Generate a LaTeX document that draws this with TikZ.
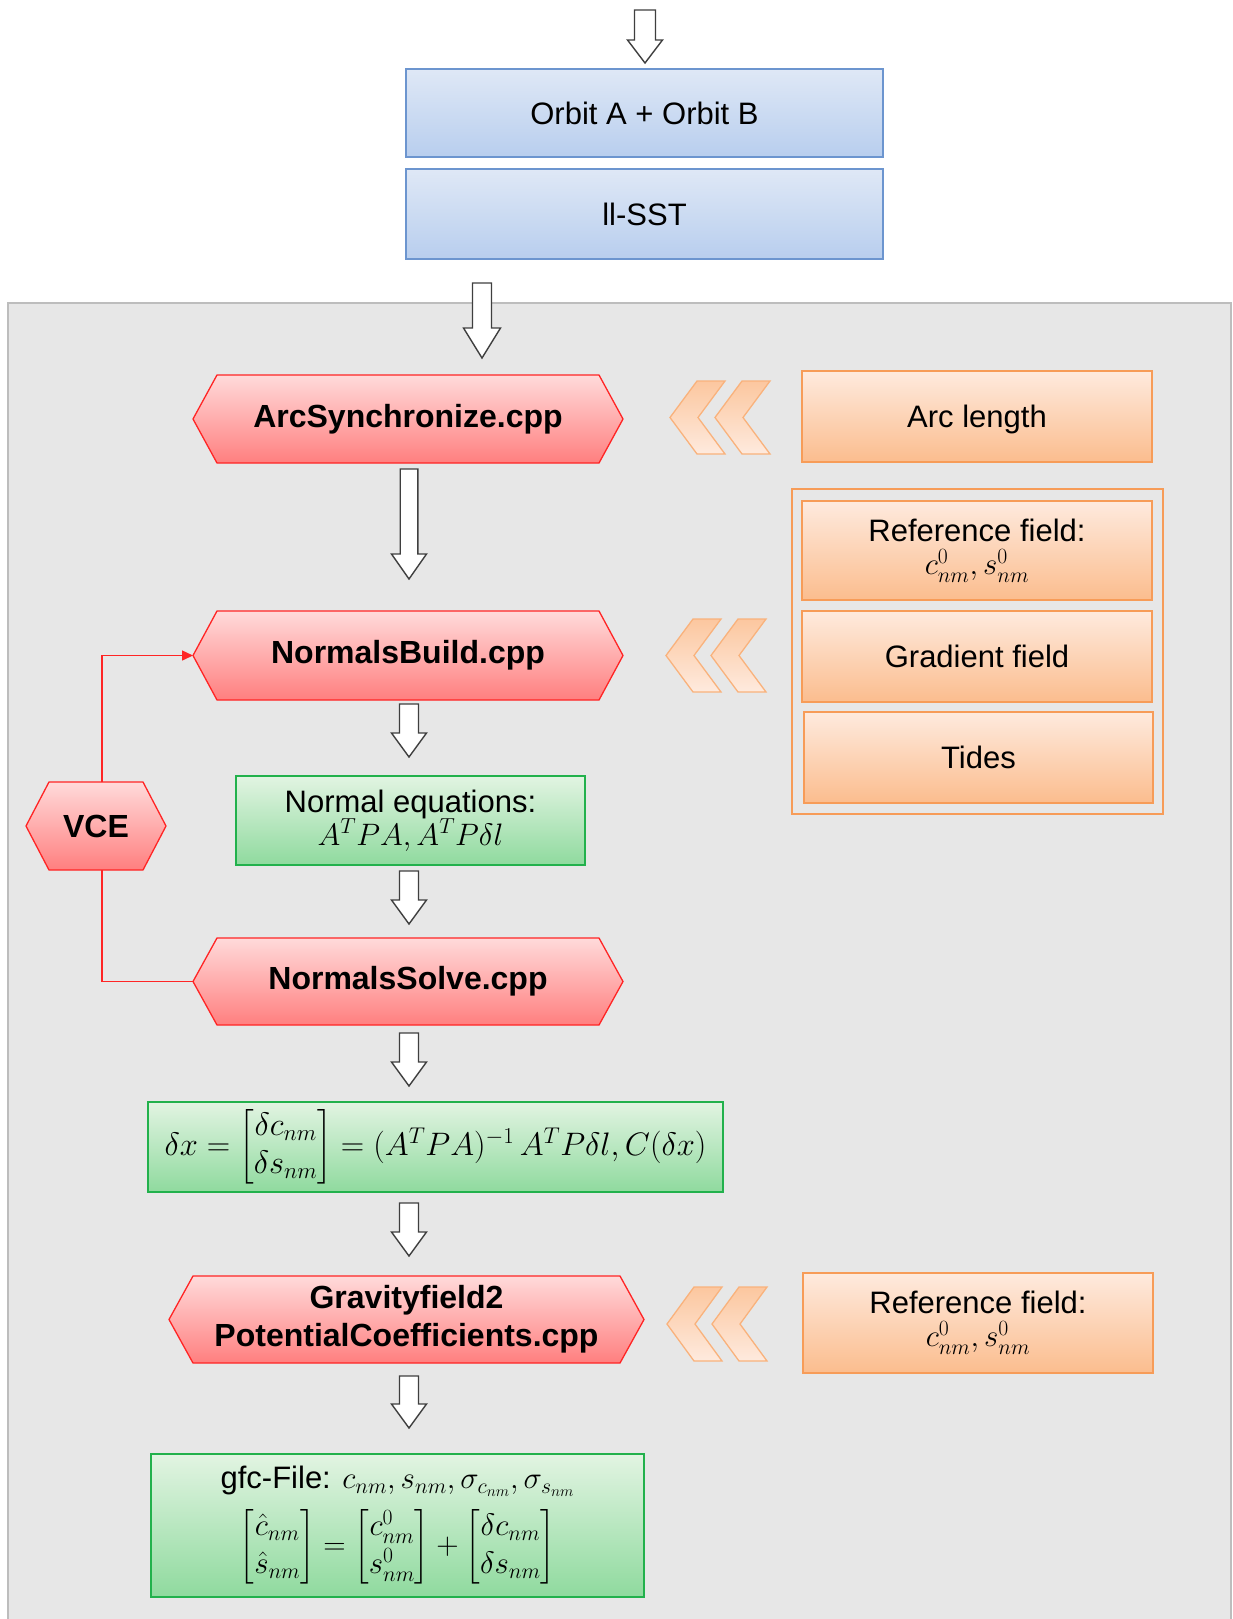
\RequirePackage{fix-cm}
\documentclass[tikz,border=0pt]{standalone}
\usepackage{amsmath}
\usepackage{fontspec}
\setmainfont{Liberation Sans}
\usetikzlibrary{arrows.meta}

\definecolor{panelfill}{HTML}{E7E7E7}
\definecolor{panelline}{HTML}{BDBDBD}
\definecolor{bluetop}{HTML}{DFE8F6}
\definecolor{bluebot}{HTML}{B8CEEE}
\definecolor{blueline}{HTML}{6C95CF}
\definecolor{orgtop}{HTML}{FEEADE}
\definecolor{orgbot}{HTML}{FBBD8E}
\definecolor{orgline}{HTML}{F79C58}
\definecolor{chevline}{HTML}{F9B27C}
\definecolor{redtop}{HTML}{FFDADA}
\definecolor{redbot}{HTML}{FF7F7F}
\definecolor{redline}{HTML}{FF2525}
\definecolor{grntop}{HTML}{E2F4E2}
\definecolor{grnbot}{HTML}{8FDA9E}
\definecolor{grnline}{HTML}{22B14C}
\definecolor{arrline}{HTML}{3F3F3F}

\pgfdeclarelayer{panel}
\pgfdeclarelayer{shapes}
\pgfsetlayers{panel,shapes,main}

\tikzset{
  box/.style={rectangle, inner sep=0pt, outer sep=0pt, line width=1.3pt,
    align=center, font=\fontsize{31}{37}\selectfont},
  bluebox/.style={box, draw=blueline, top color=bluetop, bottom color=bluebot},
  orgbox/.style={box, draw=orgline, top color=orgtop, bottom color=orgbot},
  grnbox/.style={box, draw=grnline, top color=grntop, bottom color=grnbot},
  hexlabel/.style={rectangle, inner sep=0pt, outer sep=0pt, align=center,
    font=\bfseries\fontsize{32}{38}\selectfont},
  hexshape/.style={draw=redline, line width=1.3pt, top color=redtop, bottom color=redbot},
  chevshape/.style={draw=chevline, line width=1.3pt, top color=orgbot!85, bottom color=orgtop},
  blockarrow/.style={draw=arrline, line width=1.4pt, fill=white},
  feedback/.style={draw=redline, line width=1.5pt},
}

% elongated hexagon behind a label node: #1 node, #2 corner inset
\newcommand{\hexfor}[2]{%
  \begin{pgfonlayer}{shapes}
    \path[hexshape] (#1.west) -- ([xshift=#2]#1.north west) -- ([xshift=-#2]#1.north east)
      -- (#1.east) -- ([xshift=-#2]#1.south east) -- ([xshift=#2]#1.south west) -- cycle;
  \end{pgfonlayer}}

% hollow downward block arrow: x, top y, tip y, shaft half width, head half width, head length
\newcommand{\downblock}[6]{%
  \draw[blockarrow] ({#1-#4},#2) -- ({#1+#4},#2) -- ({#1+#4},{#3-#6}) -- ({#1+#5},{#3-#6})
    -- (#1,#3) -- ({#1-#5},{#3-#6}) -- ({#1-#4},{#3-#6}) -- cycle;}

% one left-pointing chevron: tip x, centre y, half height
\newcommand{\chevron}[3]{%
  \path[chevshape] (#1,#2) -- ({#1+27},{#2-#3}) -- ({#1+55},{#2-#3}) -- ({#1+28},#2)
    -- ({#1+55},{#2+#3}) -- ({#1+27},{#2+#3}) -- cycle;}
\newcommand{\chevpair}[3]{\chevron{#1}{#2}{#3}\chevron{#1+45}{#2}{#3}}

\begin{document}
\begin{tikzpicture}[x=1pt, y=-1pt]
\useasboundingbox (0,0) rectangle (1233,1619);

% grey processing panel
\begin{pgfonlayer}{panel}
  \draw[fill=panelfill, draw=panelline, line width=2pt] (8,303) rectangle (1231,1660);
\end{pgfonlayer}

% input data
\downblock{645}{10}{63}{10.5}{17.5}{23}
\node[bluebox, minimum width=477, minimum height=88] (orbit) at (644.5,113) {Orbit A + Orbit B};
\node[bluebox, minimum width=477, minimum height=90] (sst) at (644.5,214) {ll-SST};
\downblock{482}{283}{358}{9.5}{18.5}{30}

% arc synchronisation
\node[hexlabel, minimum width=430, minimum height=88] (arc) at (408,419) {ArcSynchronize.cpp};
\hexfor{arc}{24pt}
\chevpair{670}{417.5}{36.5}
\node[orgbox, minimum width=350, minimum height=91, text depth=0pt] (arclen) at (977,416.5) {Arc length};
\downblock{409}{469}{579}{8.8}{17.5}{25}

% normal equation build
\node[draw=orgline, line width=1.3pt, inner sep=0pt, minimum width=371, minimum height=325] (inputs) at (977.5,651.5) {};
\node[orgbox, minimum width=350, minimum height=99] (ref1) at (977,550.5)
  {Reference field:\\[-4pt] $c^0_{nm}, s^0_{nm}$};
\node[orgbox, minimum width=350, minimum height=91] (grad) at (977,656.5) {Gradient field};
\node[orgbox, minimum width=349, minimum height=91] (tides) at (978.5,757.5) {Tides};

\node[hexlabel, minimum width=430, minimum height=89] (nbuild) at (408,655.5) {NormalsBuild.cpp};
\hexfor{nbuild}{24pt}
\chevpair{666}{655.5}{36.5}
\downblock{409}{704}{757}{9.5}{17.5}{24}

\node[grnbox, minimum width=349, minimum height=89] (normeq) at (410.5,820.5)
  {Normal equations:\\[-4pt] $A^T PA, A^T P\delta l$};
\downblock{409}{871}{924}{9.5}{17.5}{24}

% solution with variance component estimation
\node[hexlabel, minimum width=430, minimum height=87] (nsolve) at (408,981.5) {NormalsSolve.cpp};
\hexfor{nsolve}{24pt}

\node[hexlabel, minimum width=140, minimum height=88] (vce) at (96,826) {VCE};
\hexfor{vce}{23pt}
\draw[feedback, -{Triangle[length=11pt,width=10pt]}] ([xshift=6pt]vce.north) |- (nbuild.west);
\draw[feedback] ([xshift=6pt]vce.south) |- (nsolve.west);

\downblock{409}{1033}{1086}{9.5}{17.5}{24}
\node[grnbox, minimum width=575, minimum height=90, font=\fontsize{32.5}{38}\selectfont] (dx) at (435.5,1147)
  {$\delta x = \begin{bmatrix}\delta c_{nm}\\ \delta s_{nm}\end{bmatrix} = (A^T PA)^{-1}\, A^T P\delta l, C(\delta x)$};
\downblock{409}{1203}{1256}{9.5}{17.5}{24}

% conversion to potential coefficients
\node[hexlabel, minimum width=475, minimum height=87] (grav) at (406.5,1319.5)
  {Gravityfield2\\ PotentialCoefficients.cpp};
\hexfor{grav}{24pt}
\chevpair{667}{1324}{37}
\node[orgbox, minimum width=350, minimum height=100] (ref2) at (978,1323)
  {Reference field:\\[-4pt] $c^0_{nm}, s^0_{nm}$};
\downblock{409}{1376}{1428}{9.5}{17.5}{24}

\node[grnbox, minimum width=493, minimum height=143] (gfc) at (397.5,1525.5)
  {gfc-File: $c_{nm}, s_{nm}, \sigma_{c_{nm}}, \sigma_{s_{nm}}$\\[12pt]
   $\begin{bmatrix}\hat c_{nm}\\[1pt] \hat s_{nm}\end{bmatrix} = \begin{bmatrix}c^0_{nm}\\[1pt] s^0_{nm}\end{bmatrix} + \begin{bmatrix}\delta c_{nm}\\[1pt] \delta s_{nm}\end{bmatrix}$};
\end{tikzpicture}
\end{document}
